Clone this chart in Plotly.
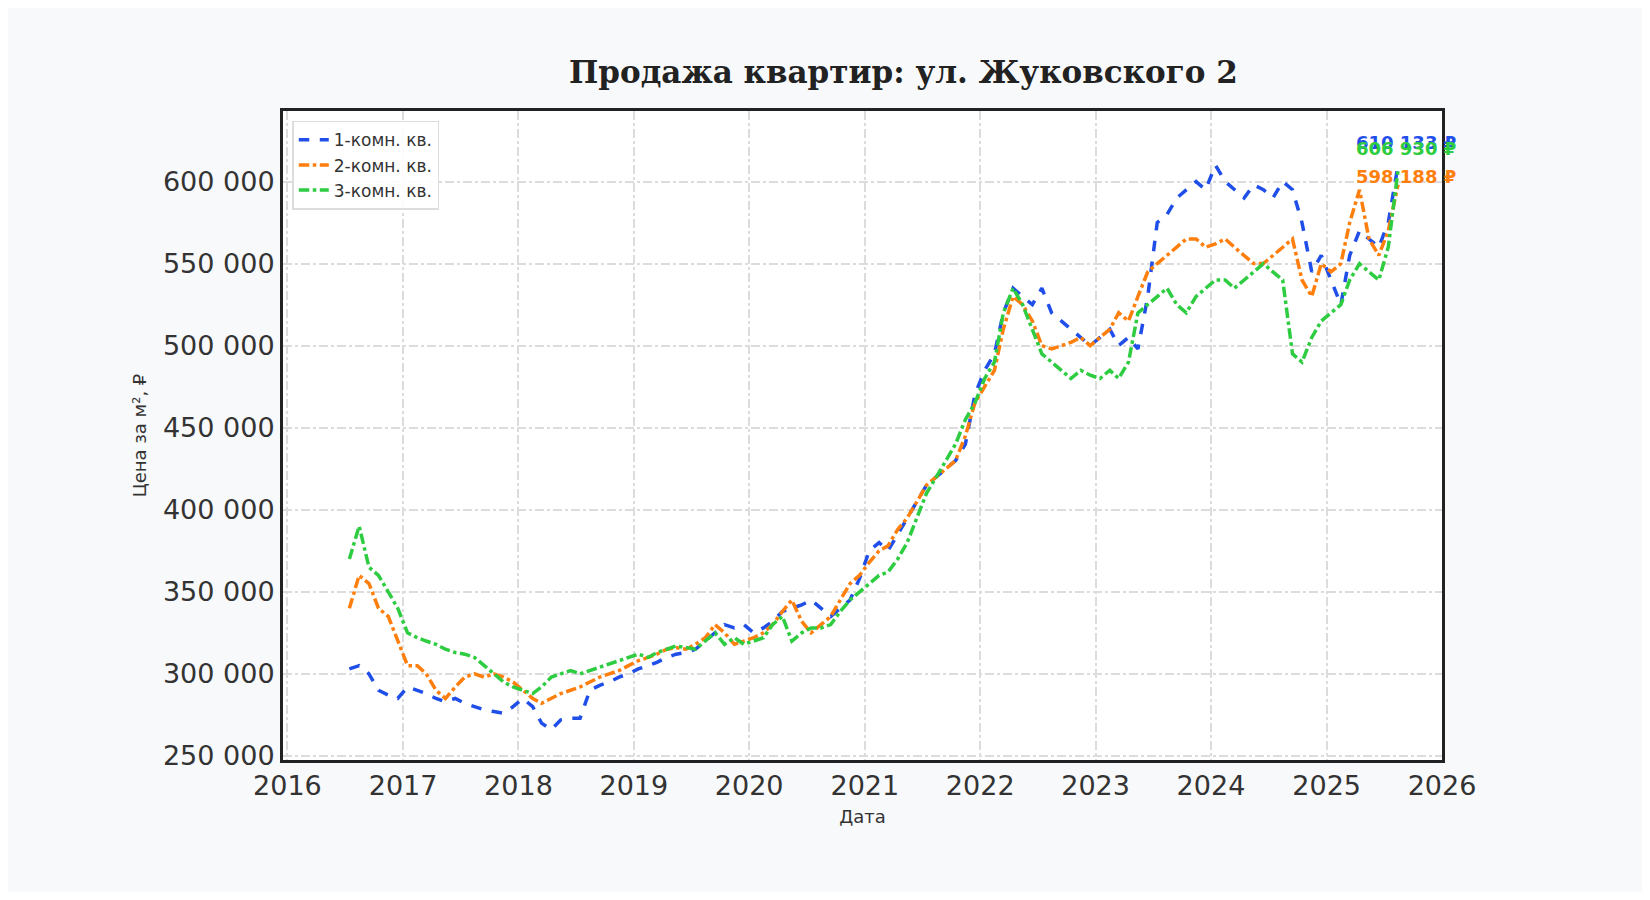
import plotly.graph_objects as go
import pandas as pd

dates = pd.date_range("2016-06-15", periods=110, freq="MS") + pd.Timedelta(days=14)

room1 = [303, 305, 300, 290, 287, 285, 292,
         290, 288, 285, 283, 285, 282, 280, 278, 277, 276, 280, 285,
         280, 270, 266, 272, 273, 273, 290, 293, 295, 298, 300, 303,
         305, 307, 310, 312, 313, 315, 320, 325, 330, 328, 330, 325,
         328, 332, 338, 340, 342, 345, 340, 335, 340, 345, 358, 375,
         380, 375, 385, 395, 405, 415, 420, 425, 430, 440, 470, 485,
         495, 520, 535, 530, 525, 535, 520, 515, 510, 505, 500, 505,
         510, 500, 505, 498, 530, 575, 580, 590, 595, 600, 595, 610,
         600, 595, 590, 598, 595, 590, 600, 595, 575, 545, 555, 540,
         525, 555, 570, 565, 560, 575, 610.133]
room2 = [340, 360, 355, 340, 335, 320, 305,
         305, 300, 290, 285, 292, 298, 300, 298, 300, 298, 295, 290,
         285, 282, 285, 288, 290, 292, 295, 298, 300, 302, 305, 308,
         310, 312, 315, 316, 315, 318, 322, 330, 325, 318, 320, 322,
         325, 330, 338, 345, 332, 325, 330, 335, 345, 355, 360, 368,
         375, 378, 388, 395, 405, 415, 420, 425, 430, 445, 465, 475,
         485, 510, 530, 525, 515, 500, 498, 500, 502, 505, 500, 505,
         510, 520, 515, 530, 545, 550, 555, 560, 565, 565, 560, 562,
         565, 560, 555, 550, 550, 555, 560, 565, 540, 530, 550, 545,
         550, 575, 595, 565, 555, 570, 598.188]
room3 = [370, 390, 365, 360, 350, 340, 325,
         322, 320, 318, 315, 313, 312, 310, 305, 300, 295, 292, 290,
         288, 292, 298, 300, 302, 300, 302, 304, 306, 308, 310, 312,
         310, 313, 315, 317, 316, 315, 320, 325, 318, 322, 318, 320,
         322, 330, 335, 320, 325, 328, 328, 330, 338, 345, 350, 355,
         360, 362, 370, 380, 395, 410, 420, 430, 440, 455, 465, 480,
         490, 520, 535, 525, 510, 495, 490, 485, 480, 485, 482, 480,
         485, 480, 490, 520, 525, 530, 535, 525, 520, 530, 535, 540,
         540, 535, 540, 545, 550, 545, 540, 495, 490, 505, 515, 520,
         525, 540, 550, 545, 540, 560, 606.930]

names = ["1-комн. кв.", "2-комн. кв.", "3-комн. кв."]
colors = ["#1f4fe8", "#ff7f0e", "#2ecc40"]
dashes = ["dash", "dashdot", "dashdot"]
series = [room1, room2, room3]
labels = ["610 133 ₽", "598 188 ₽", "606 930 ₽"]

fig = go.Figure()
for name, vals, c, d in zip(names, series, colors, dashes):
    y = [v * 1000 for v in vals]
    fig.add_trace(go.Scatter(x=dates, y=y, name=name, mode="lines",
                             line=dict(color=c, width=3.5, dash=d)))

yshifts = [22, 8, 22]
for vals, c, lab, ys in zip(series, colors, labels, yshifts):
    fig.add_annotation(x=dates[-1], y=vals[-1] * 1000, text=f"<b>{lab}</b>", showarrow=False,
                       xanchor="right", yanchor="middle", xshift=60, yshift=ys,
                       font=dict(size=18, color=c, family="DejaVu Sans"))

grid = dict(showgrid=True, gridcolor="#dcdcdc", griddash="dashdot", gridwidth=1.5,
            showline=True, linecolor="#222", linewidth=3, mirror=True, ticks="",
            tickfont=dict(size=27, color="#333"), zeroline=False)

fig.update_layout(
    paper_bgcolor="#f8f9fb", plot_bgcolor="white",
    font=dict(family="DejaVu Sans", color="#333"),
    title=dict(text="<b>Продажа квартир: ул. Жуковского 2</b>", x=0.548, y=0.94,
               font=dict(family="DejaVu Serif", size=31, color="#222")),
    xaxis=dict(grid, range=["2015-12-18", "2026-01-01"], dtick="M12", tickformat="%Y",
               title=dict(text="Дата", font=dict(size=18), standoff=10)),
    yaxis=dict(grid, range=[247500, 643000], dtick=50000, tickformat=",d",
               title=dict(text="Цена за м², ₽", font=dict(size=18), standoff=12)),
    separators=". ",
    legend=dict(x=0.008, y=0.985, xanchor="left", yanchor="top", bgcolor="rgba(255,255,255,0.9)",
                bordercolor="#ddd", borderwidth=1.5, font=dict(size=17, color="#333")),
    margin=dict(l=275, r=200, t=103, b=132),
)

fig.write_html("out.html")
